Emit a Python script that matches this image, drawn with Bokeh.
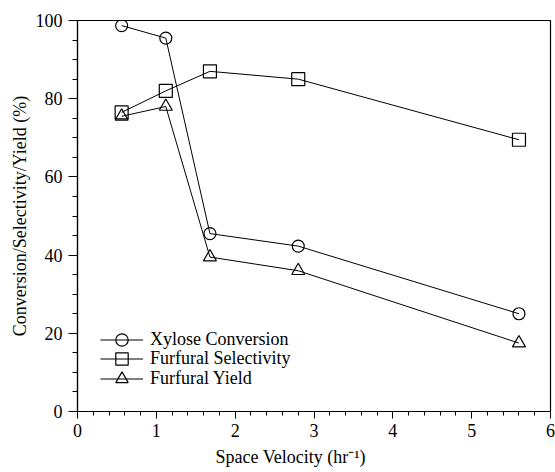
from bokeh.plotting import figure
from bokeh.models import Range1d, FixedTicker, Legend, LegendItem, Title
from bokeh.embed import file_html
from bokeh.resources import INLINE

space_velocity = [0.56, 1.12, 1.68, 2.8, 5.6]
xylose_conversion = [98.7, 95.5, 45.5, 42.3, 25.0]
furfural_selectivity = [76.5, 82.0, 87.0, 85.0, 69.5]
furfural_yield = [75.5, 78.0, 39.5, 36.0, 17.5]
x_ticks = [0, 1, 2, 3, 4, 5, 6]
y_ticks = [0, 20, 40, 60, 80, 100]
series_names = ["Xylose Conversion", "Furfural Selectivity", "Furfural Yield"]
x_title = "Space Velocity (hr\u207b\u00b9)"
y_title = "Conversion/Selectivity/Yield (%)"

SERIF = "Liberation Serif"

p = figure(width=555, height=472, output_backend="svg", toolbar_location=None,
           x_range=Range1d(0, 6), y_range=Range1d(0, 100),
           min_border_left=77, min_border_right=5, min_border_top=20, min_border_bottom=61)
p.background_fill_color = "white"
p.border_fill_color = "white"
p.outline_line_color = "black"
p.outline_line_width = 1.2
p.grid.visible = False

p.xaxis.ticker = FixedTicker(ticks=x_ticks, minor_ticks=[i * 0.2 for i in range(31)])
p.yaxis.ticker = FixedTicker(ticks=y_ticks, minor_ticks=list(range(0, 101, 5)))

for ax in (p.xaxis[0], p.yaxis[0]):
    ax.axis_line_color = "black"
    ax.axis_line_width = 1.2
    ax.major_tick_line_color = "black"
    ax.minor_tick_line_color = "black"
    ax.major_tick_in = 0
    ax.minor_tick_in = 0
    ax.major_label_text_font = SERIF
    ax.major_label_text_font_size = "18px"
    ax.major_label_text_color = "black"

p.xaxis.major_tick_out = 7
p.xaxis.minor_tick_out = 4
p.yaxis.major_tick_out = 9
p.yaxis.minor_tick_out = 5
p.xaxis.major_label_standoff = 5
p.yaxis.major_label_standoff = 6

# axis titles
yt = Title(text=y_title, align="center", standoff=6,
           text_font=SERIF, text_font_size="18px", text_font_style="normal",
           text_color="black")
p.add_layout(yt, "left")
xt = Title(text=x_title, align="left", offset=138, standoff=10,
           text_font=SERIF, text_font_size="18px", text_font_style="normal",
           text_color="black")
p.add_layout(xt, "below")

l1 = p.line(space_velocity, xylose_conversion, line_color="black", line_width=1)
m1 = p.scatter(space_velocity, xylose_conversion, marker="circle", size=12,
               fill_alpha=0, line_color="black", line_width=1.2)
l2 = p.line(space_velocity, furfural_selectivity, line_color="black", line_width=1)
m2 = p.scatter(space_velocity, furfural_selectivity, marker="square", size=13,
               fill_alpha=0, line_color="black", line_width=1.2)
l3 = p.line(space_velocity, furfural_yield, line_color="black", line_width=1)
m3 = p.scatter(space_velocity, furfural_yield, marker="triangle", size=13,
               fill_alpha=0, line_color="black", line_width=1.2)

# one legend per row so the markers can be drawn at full size with tight rows
for name, rends, yoff in zip(series_names, [[l1, m1], [l2, m2], [l3, m3]], [56, 37, 17]):
    lg = Legend(items=[LegendItem(label=name, renderers=rends)], location=(23, yoff))
    lg.border_line_color = None
    lg.background_fill_alpha = 0
    lg.padding = 0
    lg.margin = 0
    lg.spacing = 0
    lg.glyph_width = 43
    lg.glyph_height = 31
    lg.label_standoff = 7
    lg.label_text_font = SERIF
    lg.label_text_font_size = "18px"
    lg.label_text_color = "black"
    lg.label_height = 31
    p.add_layout(lg, "center")

open("out.html", "w").write(file_html(p, INLINE))
